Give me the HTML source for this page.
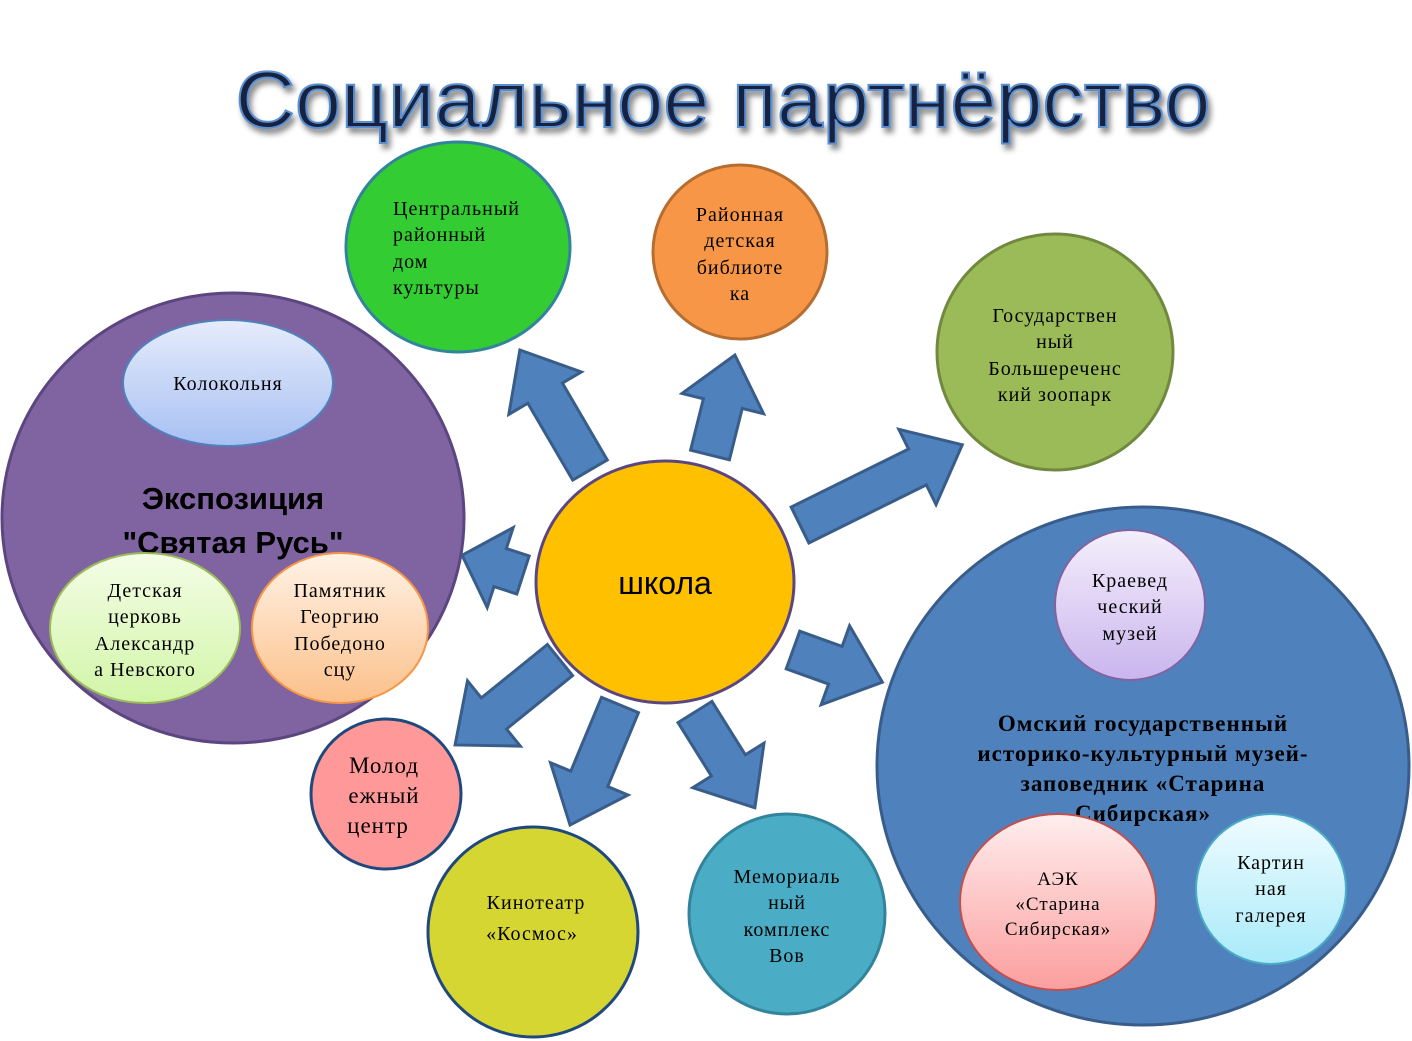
<!DOCTYPE html>
<html><head><meta charset="utf-8"><style>
html,body{margin:0;padding:0;background:#fff;}
svg{display:block;}
.s{font-family:"Liberation Serif","DejaVu Serif",serif;font-size:20px;fill:#000;text-anchor:middle;letter-spacing:1px;}
</style></head><body>
<svg width="1412" height="1041" viewBox="0 0 1412 1041" xmlns="http://www.w3.org/2000/svg">
<defs>
<filter id="sh" x="-5%" y="-20%" width="110%" height="150%"><feDropShadow dx="3" dy="5" stdDeviation="3" flood-color="#000" flood-opacity="0.45"/></filter>
<linearGradient id="gb" x1="0" y1="0" x2="0" y2="1"><stop offset="0" stop-color="#e6ecfb"/><stop offset="1" stop-color="#a7c0f3"/></linearGradient>
<linearGradient id="gg" x1="0" y1="0" x2="0" y2="1"><stop offset="0" stop-color="#f4fde6"/><stop offset="1" stop-color="#d2f5a8"/></linearGradient>
<linearGradient id="go" x1="0" y1="0" x2="0" y2="1"><stop offset="0" stop-color="#fff3e6"/><stop offset="1" stop-color="#fcc08a"/></linearGradient>
<linearGradient id="gl" x1="0" y1="0" x2="0" y2="1"><stop offset="0" stop-color="#f4effb"/><stop offset="1" stop-color="#cab5ee"/></linearGradient>
<linearGradient id="gp" x1="0" y1="0" x2="0" y2="1"><stop offset="0" stop-color="#ffeeee"/><stop offset="1" stop-color="#fb9e9e"/></linearGradient>
<linearGradient id="gc" x1="0" y1="0" x2="0" y2="1"><stop offset="0" stop-color="#effcff"/><stop offset="1" stop-color="#a9eaf9"/></linearGradient>
</defs>

<text x="723" y="127" font-family="Liberation Sans, DejaVu Sans, sans-serif" font-size="80" fill="#14243f" stroke="#5b8fd0" stroke-width="2" text-anchor="middle" textLength="975" lengthAdjust="spacingAndGlyphs" filter="url(#sh)">Социальное партнёрство</text>

<ellipse cx="233" cy="518" rx="231" ry="225" fill="#8064a2" stroke="#5b4680" stroke-width="3"/>
<ellipse cx="1143" cy="766" rx="266" ry="259" fill="#4f81bd" stroke="#385d8a" stroke-width="3"/>
<ellipse cx="458" cy="247" rx="112" ry="105" fill="#33cc33" stroke="#31849b" stroke-width="3"/>
<ellipse cx="740" cy="252" rx="87" ry="87" fill="#f79646" stroke="#b66d31" stroke-width="3"/>
<ellipse cx="1055" cy="352" rx="118" ry="118" fill="#9bbb59" stroke="#71893f" stroke-width="3"/>
<ellipse cx="386" cy="794" rx="75" ry="75" fill="#ff9999" stroke="#1f497d" stroke-width="3"/>
<ellipse cx="533" cy="932" rx="105" ry="105" fill="#d6d633" stroke="#1f497d" stroke-width="3"/>
<ellipse cx="787" cy="914" rx="98" ry="100" fill="#4bacc6" stroke="#31849b" stroke-width="3"/>

<g fill="#4f81bd" stroke="#385d8a" stroke-width="3" stroke-linejoin="miter">
<polygon transform="translate(590,470) rotate(-120.3)" points="0,-20 89,-20 89,-42 139,0 89,42 89,20 0,20"/>
<polygon transform="translate(710,455) rotate(-76)" points="0,-20 53,-20 53,-42 103,0 53,42 53,20 0,20"/>
<polygon transform="translate(800,525) rotate(-26.3)" points="0,-20 131,-20 131,-42 181,0 131,42 131,20 0,20"/>
<polygon transform="translate(523,575) rotate(-162)" points="0,-20 24,-20 24,-42 64,0 24,42 24,20 0,20"/>
<polygon transform="translate(793,650) rotate(19.8)" points="0,-20 45,-20 45,-42 95,0 45,42 45,20 0,20"/>
<polygon transform="translate(560,660) rotate(141)" points="0,-20 85,-20 85,-42 135,0 85,42 85,20 0,20"/>
<polygon transform="translate(620,705) rotate(112.6)" points="0,-20 80,-20 80,-42 130,0 80,42 80,20 0,20"/>
<polygon transform="translate(695,712) rotate(58)" points="0,-20 63,-20 63,-42 113,0 63,42 63,20 0,20"/>
</g>

<ellipse cx="665" cy="582" rx="129" ry="121" fill="#ffc000" stroke="#5b4680" stroke-width="3"/>
<text x="665" y="594" font-family="Liberation Sans, DejaVu Sans, sans-serif" font-size="32" text-anchor="middle">школа</text>

<ellipse cx="228" cy="383" rx="105" ry="63" fill="url(#gb)" stroke="#4f81bd" stroke-width="2"/>
<text class="s" x="228" y="390">Колокольня</text>
<text x="233" y="509" font-family="Liberation Sans, DejaVu Sans, sans-serif" font-size="31" font-weight="bold" text-anchor="middle">Экспозиция</text>
<text x="233" y="553" font-family="Liberation Sans, DejaVu Sans, sans-serif" font-size="31" font-weight="bold" text-anchor="middle">"Святая Русь"</text>
<ellipse cx="145" cy="628" rx="95" ry="75" fill="url(#gg)" stroke="#9bbb59" stroke-width="2"/>
<text class="s"><tspan x="145" y="597">Детская</tspan><tspan x="145" y="623">церковь</tspan><tspan x="145" y="650">Александр</tspan><tspan x="145" y="676">а Невского</tspan></text>
<ellipse cx="340" cy="628" rx="88" ry="75" fill="url(#go)" stroke="#f79646" stroke-width="2"/>
<text class="s"><tspan x="340" y="597">Памятник</tspan><tspan x="340" y="623">Георгию</tspan><tspan x="340" y="650">Победоно</tspan><tspan x="340" y="676">сцу</tspan></text>

<text class="s"><tspan x="393" y="215" text-anchor="start">Центральный</tspan><tspan x="393" y="241" text-anchor="start">районный</tspan><tspan x="393" y="268" text-anchor="start">дом</tspan><tspan x="393" y="294" text-anchor="start">культуры</tspan></text>
<text class="s"><tspan x="740" y="221">Районная</tspan><tspan x="740" y="247">детская</tspan><tspan x="740" y="274">библиоте</tspan><tspan x="740" y="300">ка</tspan></text>
<text class="s"><tspan x="1055" y="322">Государствен</tspan><tspan x="1055" y="348">ный</tspan><tspan x="1055" y="375">Большереченс</tspan><tspan x="1055" y="401">кий зоопарк</tspan></text>
<text class="s" style="font-size:23px"><tspan x="384" y="773">Молод</tspan><tspan x="384" y="803">ежный</tspan><tspan x="378" y="833">центр</tspan></text>
<text class="s"><tspan x="536" y="909">Кинотеатр</tspan><tspan x="532" y="940">«Космос»</tspan></text>
<text class="s"><tspan x="787" y="883">Мемориаль</tspan><tspan x="787" y="909">ный</tspan><tspan x="787" y="936">комплекс</tspan><tspan x="787" y="962">Вов</tspan></text>

<ellipse cx="1130" cy="605" rx="75" ry="75" fill="url(#gl)" stroke="#8064a2" stroke-width="2"/>
<text class="s"><tspan x="1130" y="587">Краевед</tspan><tspan x="1130" y="613">ческий</tspan><tspan x="1130" y="640">музей</tspan></text>
<text font-family="Liberation Serif, DejaVu Serif, serif" font-size="23" font-weight="bold" letter-spacing="1" text-anchor="middle"><tspan x="1143" y="731">Омский государственный</tspan><tspan x="1143" y="761">историко-культурный музей-</tspan><tspan x="1143" y="791">заповедник «Старина</tspan><tspan x="1143" y="821">Сибирская»</tspan></text>
<ellipse cx="1058" cy="902" rx="98" ry="88" fill="url(#gp)" stroke="#c0504d" stroke-width="2"/>
<text class="s" style="font-size:19px"><tspan x="1058" y="885">АЭК</tspan><tspan x="1058" y="910">«Старина</tspan><tspan x="1058" y="935">Сибирская»</tspan></text>
<ellipse cx="1271" cy="889" rx="75" ry="75" fill="url(#gc)" stroke="#4bacc6" stroke-width="2"/>
<text class="s"><tspan x="1271" y="869">Картин</tspan><tspan x="1271" y="895">ная</tspan><tspan x="1271" y="922">галерея</tspan></text>
</svg>
</body></html>
